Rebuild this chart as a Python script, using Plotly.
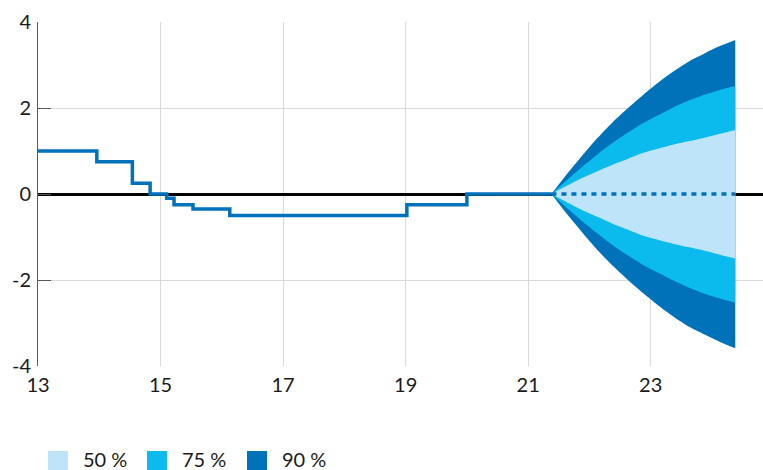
import plotly.graph_objects as go

# ---- data ----
policy_x = [13.0, 13.96, 14.54, 14.83, 15.10, 15.22, 15.53, 16.13, 19.02, 20.0, 21.38]
policy_y = [1.0, 0.75, 0.25, 0.0, -0.10, -0.25, -0.35, -0.50, -0.25, 0.0, 0.0]

fan_x = [21.38, 21.63, 21.88, 22.13, 22.38, 22.63, 22.88, 23.13, 23.38, 23.63, 23.88, 24.13, 24.38]
fan_mid = [0, 0, 0, 0, 0, 0, 0, 0, 0, 0, 0, 0, 0]
p90_up = [0, 0.46, 0.89, 1.30, 1.67, 2.00, 2.31, 2.60, 2.86, 3.09, 3.27, 3.44, 3.58]
p75_up = [0, 0.32, 0.63, 0.92, 1.19, 1.43, 1.65, 1.84, 2.02, 2.18, 2.31, 2.42, 2.51]
p50_up = [0, 0.19, 0.37, 0.53, 0.68, 0.82, 0.96, 1.06, 1.15, 1.23, 1.31, 1.40, 1.49]
p90_lo = [-v for v in [0, 0.46, 0.89, 1.30, 1.67, 2.00, 2.31, 2.60, 2.86, 3.09, 3.27, 3.44, 3.59]]
p75_lo = [-v for v in [0, 0.32, 0.63, 0.92, 1.19, 1.43, 1.65, 1.84, 2.02, 2.18, 2.32, 2.43, 2.53]]
p50_lo = [-v for v in [0, 0.19, 0.37, 0.53, 0.69, 0.83, 0.97, 1.07, 1.16, 1.24, 1.32, 1.41, 1.50]]

band_names = ["50 %", "75 %", "90 %"]
band_colors = ["#BEE4F9", "#0BBBEE", "#0072B9"]
line_color = "#0072BB"

x_ticks = [13, 15, 17, 19, 21, 23]
y_ticks = [-4, -2, 0, 2, 4]
y_ticklabels = ["-4", "-2", "0", "2", "4"]

FONT = "Lato"
FS = 20
W, H = 763, 470
ML, MR, MT, MB = 38, 0, 22, 104
PW, PH = W - ML - MR, H - MT - MB

fig = go.Figure()

bands = [(band_names[2], band_colors[2], p90_up, p90_lo),
         (band_names[1], band_colors[1], p75_up, p75_lo),
         (band_names[0], band_colors[0], p50_up, p50_lo)]
for name, col, up, lo in bands:
    fig.add_trace(go.Scatter(
        x=fan_x, y=lo, mode="lines",
        line=dict(width=0, color=col, shape="spline", smoothing=0.8),
        showlegend=False, hoverinfo="skip"))
    fig.add_trace(go.Scatter(
        x=fan_x, y=up, mode="lines", fill="tonexty", fillcolor=col,
        line=dict(width=0, color=col, shape="spline", smoothing=0.8),
        name=name, showlegend=False, hoverinfo="skip"))

fig.add_trace(go.Scatter(x=policy_x, y=policy_y, mode="lines",
                         line=dict(shape="hv", color=line_color, width=3.5),
                         showlegend=False))
fig.add_trace(go.Scatter(x=fan_x, y=fan_mid, mode="lines",
                         line=dict(color=line_color, width=3.5, dash="5px,5px"),
                         showlegend=False))

# manual legend (pixel positions converted to paper coords)
def px(xp):
    return (xp - ML) / PW

def py(yp):
    return (H - MB - yp) / PH

legend_x = [48, 147, 247]
for i, (name, col) in enumerate(zip(band_names, band_colors)):
    x0 = legend_x[i]
    fig.add_shape(type="rect", xref="paper", yref="paper",
                  x0=px(x0), x1=px(x0 + 20), y0=py(471), y1=py(451),
                  fillcolor=col, line=dict(width=0))
    fig.add_annotation(xref="paper", yref="paper", x=px(x0 + 33), y=py(459),
                       text=name, showarrow=False, xanchor="left", yanchor="middle",
                       font=dict(family=FONT, size=FS, color="#1a1a1a"))

fig.update_layout(
    width=W, height=H,
    margin=dict(l=ML, r=MR, t=MT, b=MB, autoexpand=False),
    plot_bgcolor="white", paper_bgcolor="white",
    showlegend=False,
    font=dict(family=FONT, size=FS, color="#1a1a1a"),
)
fig.update_xaxes(range=[13, 13 + PW / 61.27], tickvals=x_ticks,
                 showgrid=True, gridcolor="#d9d9d9", gridwidth=1,
                 zeroline=False, showline=False, ticks="",
                 ticklabelstandoff=5, automargin=False, fixedrange=True)
fig.update_yaxes(range=[-4, 4], tickvals=y_ticks, ticktext=y_ticklabels,
                 showgrid=True, gridcolor="#d9d9d9", gridwidth=1,
                 zeroline=True, zerolinecolor="black", zerolinewidth=3,
                 showline=True, linecolor="#595959", linewidth=1,
                 ticks="inside", ticklen=13, tickcolor="#595959", tickwidth=1,
                 ticklabelstandoff=2, automargin=False, fixedrange=True)

fig.write_html("out.html", config={"displayModeBar": False},
               post_script="document.body.style.margin='0';document.body.style.overflow='hidden';")
